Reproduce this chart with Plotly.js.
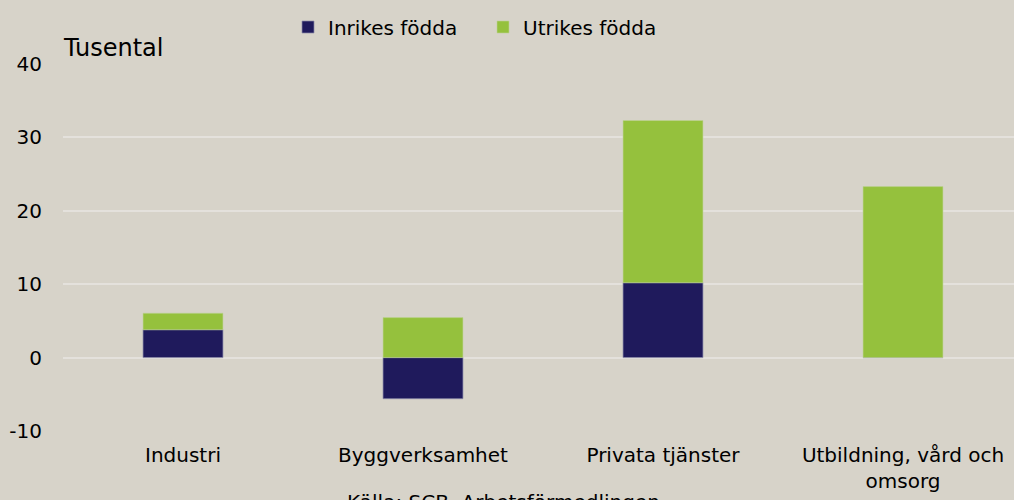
<!DOCTYPE html>
<html><head><meta charset="utf-8">
<script src="https://cdn.plot.ly/plotly-3.0.1.min.js"></script>
<style>html,body{margin:0;padding:0;background:#d7d3c9;}#chart{width:1014px;height:500px;}</style>
</head><body><div id="chart"></div>
<script>
const categories = ["Industri", "Byggverksamhet", "Privata tjänster", "Utbildning, vård och<br>omsorg"];
const inrikesFodda = [3.8, -5.6, 10.2, 0.0];
const utrikesFodda = [2.25, 5.45, 22.1, 23.3];
const yTicks = [-10, 0, 10, 20, 30, 40];
const yTickText = ["-10", "0", "10", "20", "30", "40"];

const font = {family: "DejaVu Sans, Liberation Sans, Arial, sans-serif", size: 20, color: "#000"};
const traces = [
  {type: "bar", name: "Inrikes födda", x: categories, y: inrikesFodda,
   marker: {color: "#1f1a5c", line: {color: "rgba(140,140,170,0.7)", width: 1}}},
  {type: "bar", name: "Utrikes födda", x: categories, y: utrikesFodda,
   marker: {color: "#95c13d", line: {color: "rgba(190,210,150,0.6)", width: 1}}}
];
const plotTop = 64, plotBottom = 431, H = 500;
const pToPaper = p => (plotBottom - p) / (plotBottom - plotTop);
const layout = {
  width: 1014, height: 500,
  paper_bgcolor: "#d7d3c9", plot_bgcolor: "#d7d3c9",
  font: font,
  barmode: "relative", bargap: 0.667,
  margin: {l: 63, r: 0, t: plotTop, b: H - plotBottom},
  showlegend: true,
  legend: {orientation: "h", xref: "container", yref: "container", x: 288/1014, xanchor: "left",
           y: 1 - 27/500, yanchor: "middle", font: font, bgcolor: "rgba(0,0,0,0)", itemwidth: 30,
           entrywidth: 150, entrywidthmode: "pixels"},
  xaxis: {type: "category", range: [-0.5, 3.4625], showgrid: false, zeroline: false, showline: false,
          ticks: "", ticklabelstandoff: 10, tickfont: font, fixedrange: true},
  yaxis: {range: [-10, 40], tickvals: yTicks, ticktext: yTickText, showgrid: true, gridcolor: "#e4e1dc", gridwidth: 2,
          zeroline: true, zerolinecolor: "#e4e1dc", zerolinewidth: 2, showline: false, ticks: "",
          ticklabelstandoff: 20, tickfont: font, fixedrange: true},
  annotations: [
    {text: "Tusental", xref: "paper", yref: "paper", x: 0, y: pToPaper(48), xanchor: "left", yanchor: "middle",
     showarrow: false, font: {family: font.family, size: 24, color: "#000"}, xshift: -2},
    {text: "Källa: SCB, Arbetsförmedlingen", xref: "paper", yref: "paper", x: (345 - 63) / 951, y: pToPaper(488),
     xanchor: "left", yanchor: "top", showarrow: false, font: font}
  ]
};
Plotly.newPlot("chart", traces, layout, {displayModeBar: false, staticPlot: true});
</script></body></html>
